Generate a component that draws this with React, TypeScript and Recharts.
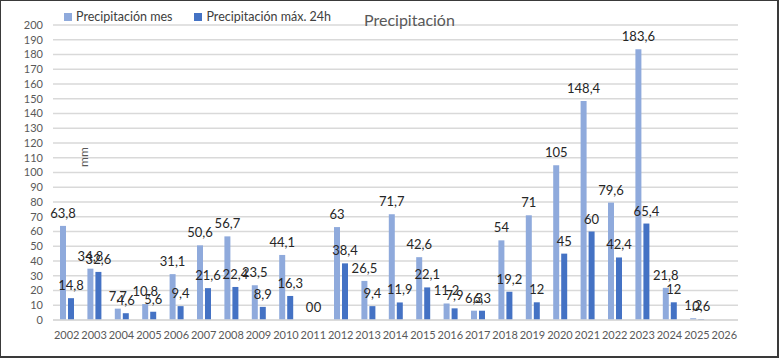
import React from 'react';
import { BarChart, Bar, XAxis, YAxis, CartesianGrid, LabelList } from 'recharts';

const years = ['2002','2003','2004','2005','2006','2007','2008','2009','2010','2011','2012','2013','2014','2015','2016','2017','2018','2019','2020','2021','2022','2023','2024','2025','2026'];
const precipMes: (number | null)[] = [63.8,34.8,7.7,10.8,31.1,50.6,56.7,23.5,44.1,0,63,26.5,71.7,42.6,11.2,6.3,54,71,105,148.4,79.6,183.6,21.8,1.2,null];
const precipMax24: (number | null)[] = [14.8,32.6,4.6,5.6,9.4,21.6,22.4,8.9,16.3,0,38.4,9.4,11.9,22.1,7.9,6.3,19.2,12,45,60,42.4,65.4,12,0.6,null];
const yTicks = [0,10,20,30,40,50,60,70,80,90,100,110,120,130,140,150,160,170,180,190,200];

const seriesNames = ['Precipitación mes', 'Precipitación máx. 24h'];
const colors = ['#8FAADC', '#4472C4'];

const data = years.map((y, i) => ({ year: y, mes: precipMes[i], max24: precipMax24[i] }));

const fmt = (v: any) => (v === null || v === undefined ? '' : String(v).replace('.', ','));
const FONT = 'Lato, "Open Sans", sans-serif';

const renderLabel = (props: any) => {
  const { x, y, width, height, value } = props;
  if (value === null || value === undefined) return null;
  const top = Math.min(Number(y), Number(y) + Number(height || 0));
  return (
    <text x={Number(x) + Number(width) / 2} y={top - 8} textAnchor="middle" fill="#262626" fontSize={13} fontFamily={FONT}>
      {fmt(value)}
    </text>
  );
};

const minSize = (v: any) => (v === 0 ? 0.01 : 0);

export default function App() {
  return (
    <div style={{ position: 'absolute', left: 0, top: 0, width: 779, height: 358, boxSizing: 'border-box', borderTop: '1px solid #3a3a3a', borderLeft: '1px solid #3a3a3a', borderRight: '2px solid #3a3a3a', borderBottom: '2px solid #3a3a3a', background: '#fff', fontFamily: FONT }}>
      <div style={{ position: 'absolute', left: -1, top: -1 }}>
        <BarChart width={779} height={358} data={data} margin={{ top: 25, right: 41, bottom: 8, left: 0 }} barGap={2}>
          <CartesianGrid vertical={false} stroke="#d9d9d9" strokeWidth={1.5} />
          <XAxis dataKey="year" height={30} tickLine={false} axisLine={{ stroke: '#d9d9d9', strokeWidth: 1.5 }} tickSize={0} tickMargin={11} interval={0} tick={{ fill: '#595959', fontSize: 11, fontFamily: FONT }} />
          <YAxis width={53} domain={[0, 200]} ticks={yTicks} interval={0} axisLine={false} tickLine={false} tickSize={0} tickMargin={10} tick={{ fill: '#595959', fontSize: 11, fontFamily: FONT }} />
          <Bar dataKey="mes" name={seriesNames[0]} fill={colors[0]} barSize={6} minPointSize={minSize} isAnimationActive={false}>
            <LabelList dataKey="mes" content={renderLabel} />
          </Bar>
          <Bar dataKey="max24" name={seriesNames[1]} fill={colors[1]} barSize={6} minPointSize={minSize} isAnimationActive={false}>
            <LabelList dataKey="max24" content={renderLabel} />
          </Bar>
        </BarChart>
      </div>
      <div style={{ position: 'absolute', left: 63, top: 8, display: 'flex', alignItems: 'center', fontSize: 12.5, color: '#404040' }}>
        <span style={{ width: 8, height: 8, background: colors[0], display: 'inline-block', marginRight: 4 }} />
        <span style={{ marginRight: 22 }}>{seriesNames[0]}</span>
        <span style={{ width: 8, height: 8, background: colors[1], display: 'inline-block', marginRight: 4 }} />
        <span>{seriesNames[1]}</span>
      </div>
      <div style={{ position: 'absolute', left: 363, top: 9, fontSize: 16, color: '#595959' }}>Precipitación</div>
      <div style={{ position: 'absolute', left: 82, top: 156, transform: 'translate(-50%, -50%) rotate(-90deg)', fontSize: 12, color: '#595959' }}>mm</div>
    </div>
  );
}
